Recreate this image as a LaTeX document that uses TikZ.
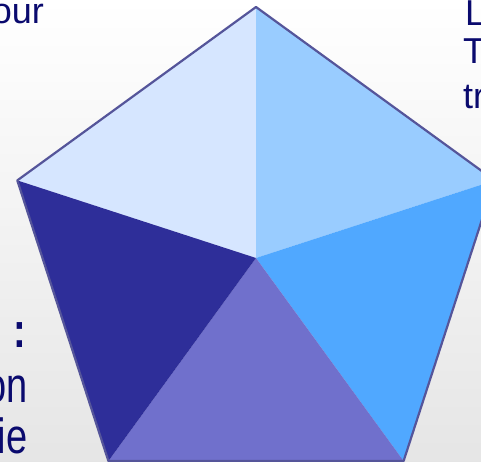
\documentclass[tikz,border=0pt]{standalone}
\usepackage{fontspec}
\usepackage{graphicx}
\setmainfont{Liberation Sans}
\definecolor{navy}{HTML}{0A0A6E}
\definecolor{edge}{HTML}{55559A}
\definecolor{cTL}{HTML}{D6E6FF}
\definecolor{cTR}{HTML}{99CCFF}
\definecolor{cR}{HTML}{50A8FF}
\definecolor{cB}{HTML}{7070CC}
\definecolor{cL}{HTML}{2E2E99}
\newcommand{\tallt}[1]{\scalebox{1}[1.3]{#1}}
\begin{document}
\begin{tikzpicture}[x=1pt,y=-1pt,
  txt/.style={text=navy,inner sep=0pt,font=\fontsize{36}{40}\selectfont},
  big/.style={text=navy,inner sep=0pt,font=\fontsize{38}{44}\selectfont}]
\useasboundingbox (0,0) rectangle (481,461);
\shade[top color=white,bottom color=black!10] (0,0) rectangle (481,461);
\begin{scope}
\clip (0,0) rectangle (481,461);
\coordinate (C) at (256,258);
\coordinate (T) at (256,7);
\coordinate (L) at (17.3,180.4);
\coordinate (R) at (494.7,180.4);
\coordinate (BL) at (108.4,461);
\coordinate (BR) at (403.6,461);
\fill[cTL] (C) -- (L) -- (T) -- cycle;
\fill[cTR] (C) -- (T) -- (R) -- cycle;
\fill[cR] (C) -- (R) -- (BR) -- cycle;
\fill[cB] (C) -- (BR) -- (BL) -- cycle;
\fill[cL] (C) -- (BL) -- (L) -- cycle;
\draw[edge,line width=2.2pt,line join=round] (T) -- (R) -- (BR) -- (BL) -- (L) -- cycle;
\end{scope}
\node[txt,anchor=base east] (our) at (44,23) {our};
\node[txt,anchor=base west] (l1) at (465,25) {L};
\node[txt,anchor=base west] (l2) at (463,63) {T};
\node[txt,anchor=base west] (l3) at (463,108) {tr};
\node[big,anchor=base east,font=\fontsize{38}{44}\selectfont\bfseries] (c1) at (26.5,347) {\tallt{:}};
\node[big,anchor=base east] (c2) at (27.5,402) {\tallt{on}};
\node[big,anchor=base east] (c3) at (27.5,453) {\tallt{ie}};
\end{tikzpicture}
\end{document}
